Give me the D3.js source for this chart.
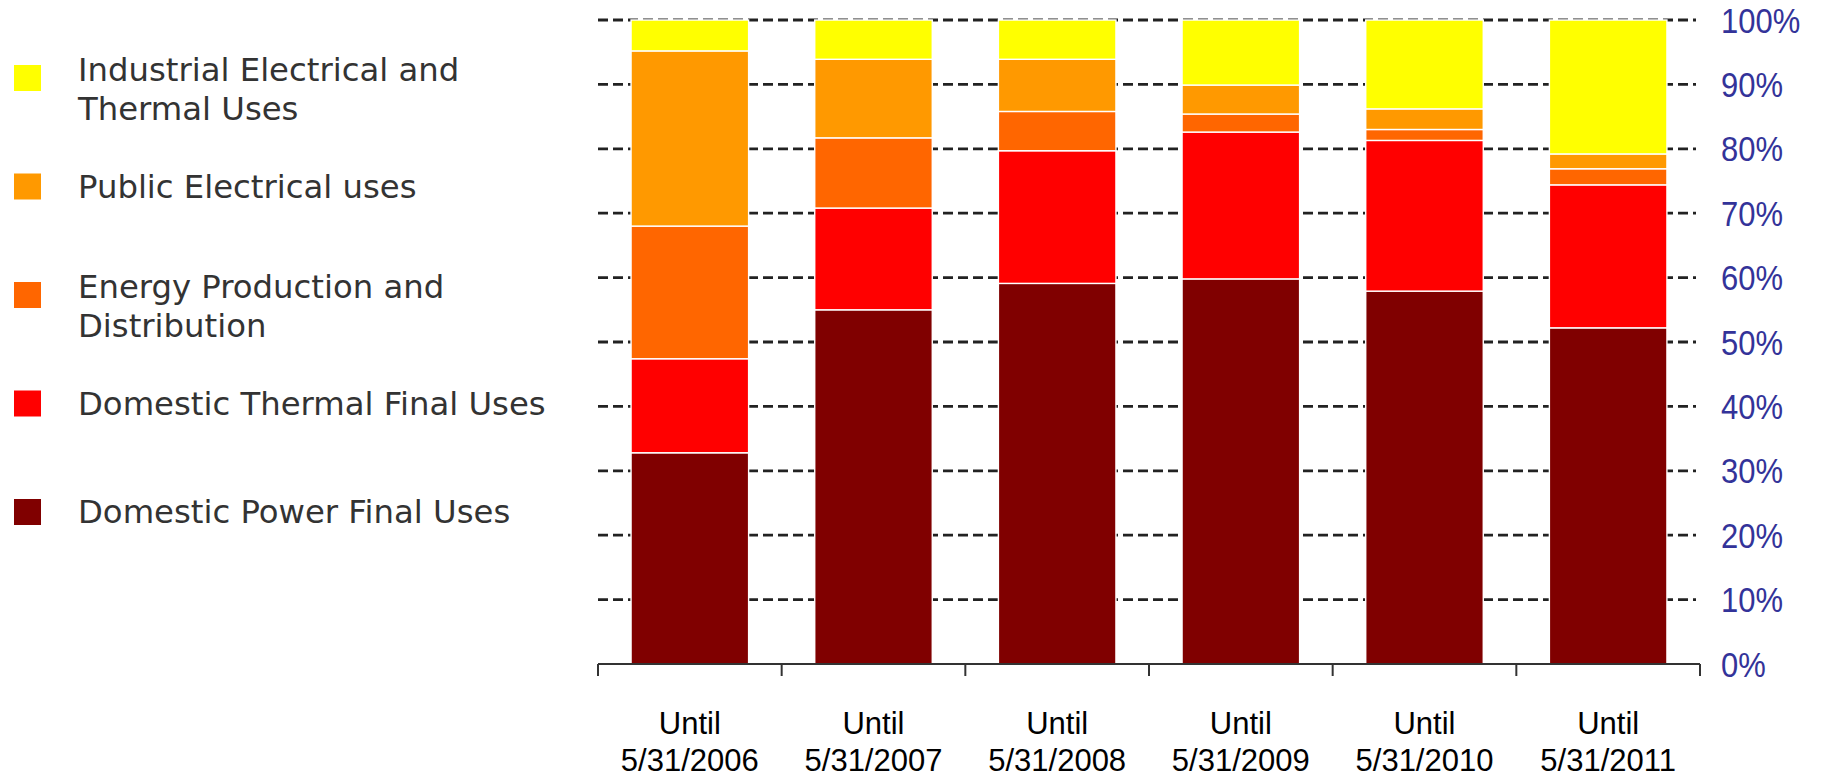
<!DOCTYPE html>
<html>
<head>
<meta charset="utf-8">
<script src="https://cdn.jsdelivr.net/npm/d3@7/dist/d3.min.js"></script>
<style>
  html, body { margin: 0; padding: 0; background: #ffffff; }
  svg { display: block; }
</style>
</head>
<body>
<svg id="chart" width="1823" height="778"></svg>
<script>
// ---- data ----
const categoryPrefix = "Until";
const categories = ["5/31/2006", "5/31/2007", "5/31/2008", "5/31/2009", "5/31/2010", "5/31/2011"];
const seriesNames = [
  "Domestic Power Final Uses",
  "Domestic Thermal Final Uses",
  "Energy Production and Distribution",
  "Public Electrical uses",
  "Industrial Electrical and Thermal Uses"
];
const domesticPower    = [32.8, 55.0, 59.1, 59.8, 57.9, 52.2];
const domesticThermal  = [14.6, 15.8, 20.6, 22.8, 23.4, 22.2];
const energyProduction = [20.6, 10.9,  6.1,  2.8,  1.7,  2.5];
const publicElectrical = [27.2, 12.2,  8.1,  4.5,  3.2,  2.3];
const industrial       = [ 4.8,  6.1,  6.1, 10.1, 13.8, 20.8];
const seriesColors = ["#800000", "#ff0000", "#ff6600", "#ff9900", "#ffff00"];
const legendLines = [
  ["Domestic Power Final Uses"],
  ["Domestic Thermal Final Uses"],
  ["Energy Production and", "Distribution"],
  ["Public Electrical uses"],
  ["Industrial Electrical and", "Thermal Uses"]
];
const yTicks = [0, 10, 20, 30, 40, 50, 60, 70, 80, 90, 100];

// ---- build table ----
const seriesValues = [domesticPower, domesticThermal, energyProduction, publicElectrical, industrial];
const table = categories.map((c, i) => {
  const row = { category: c };
  seriesNames.forEach((s, k) => { row[s] = seriesValues[k][i]; });
  return row;
});
const stacked = d3.stack().keys(seriesNames)(table);

const svg = d3.select("#chart");

// ---- scales ----
const x = d3.scaleBand().domain(categories).range([598, 1700]).paddingInner(0.36).paddingOuter(0.18);
const y = d3.scaleLinear().domain([0, 100]).range([664, 20]);
const step = x.step();
const bandStart = d => x(d) - step * 0.18;

// ---- gridlines ----
svg.append("g")
  .selectAll("line")
  .data(yTicks.filter(t => t > 0))
  .join("line")
  .attr("x1", 598).attr("x2", 1696)
  .attr("y1", d => y(d)).attr("y2", d => y(d))
  .attr("stroke", "#222")
  .attr("stroke-width", 2.8)
  .attr("stroke-dasharray", "10,5");

// ---- bars ----
svg.append("g")
  .selectAll("g")
  .data(stacked)
  .join("g")
  .attr("fill", (d, i) => seriesColors[i])
  .selectAll("rect")
  .data(d => d)
  .join("rect")
  .attr("x", d => x(d.data.category))
  .attr("width", x.bandwidth())
  .attr("y", d => y(d[1]))
  .attr("height", d => y(d[0]) - y(d[1]))
  .attr("stroke", "#ffffff")
  .attr("stroke-width", 1.4);

// ---- x axis ----
const xAxis = svg.append("g");
xAxis.append("line")
  .attr("x1", 598).attr("x2", 1700)
  .attr("y1", y(0)).attr("y2", y(0))
  .attr("stroke", "#333").attr("stroke-width", 2);
const boundaries = categories.map(bandStart).concat([bandStart(categories[categories.length - 1]) + step]);
xAxis.selectAll("line.tick")
  .data(boundaries)
  .join("line")
  .attr("class", "tick")
  .attr("x1", d => d).attr("x2", d => d)
  .attr("y1", y(0)).attr("y2", y(0) + 12)
  .attr("stroke", "#333").attr("stroke-width", 2);

const labels = xAxis.selectAll("text.cat")
  .data(categories)
  .join("text")
  .attr("class", "cat")
  .attr("text-anchor", "middle")
  .attr("font-family", "'Liberation Sans', Arial, sans-serif")
  .attr("font-size", 31)
  .attr("fill", "#000");
labels.append("tspan")
  .attr("x", d => x(d) + x.bandwidth() / 2)
  .attr("y", 734)
  .text(categoryPrefix);
labels.append("tspan")
  .attr("x", d => x(d) + x.bandwidth() / 2)
  .attr("y", 771)
  .text(d => d);

// ---- right y labels ----
svg.append("g")
  .selectAll("text")
  .data(yTicks)
  .join("text")
  .attr("transform", d => `translate(1721,${y(d)}) scale(1,1.12)`)
  .attr("dy", "0.36em")
  .attr("font-family", "'Liberation Sans', Arial, sans-serif")
  .attr("font-size", 31)
  .attr("fill", "#333399")
  .text(d => d + "%");

// ---- legend ----
const legendOrder = d3.range(seriesNames.length).reverse(); // top: Industrial
const ly = d3.scalePoint().domain(legendOrder).range([78, 512]);
const legend = svg.append("g");
const items = legend.selectAll("g")
  .data(legendOrder)
  .join("g")
  .attr("transform", k => `translate(0,${ly(k)})`);
items.append("rect")
  .attr("x", 14).attr("y", -13)
  .attr("width", 27).attr("height", 26)
  .attr("fill", k => seriesColors[k]);
items.each(function (k) {
  const lines = legendLines[k];
  const t = d3.select(this).append("text")
    .attr("font-family", "'DejaVu Sans', Verdana, sans-serif")
    .attr("font-size", 32.3)
    .attr("fill", "#333");
  lines.forEach((ln, j) => {
    const base = lines.length === 1 ? 11 : 3 + j * 39;
    t.append("tspan").attr("x", 78).attr("y", base).text(ln);
  });
});
</script>
</body>
</html>
